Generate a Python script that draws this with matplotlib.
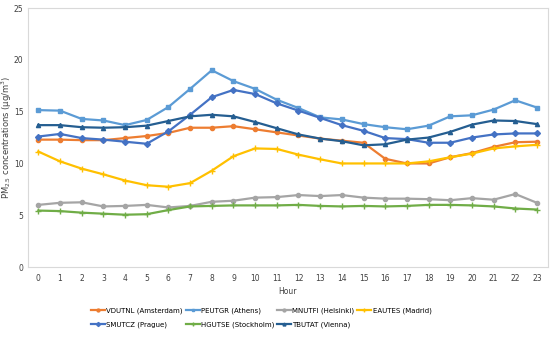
import numpy as np
import matplotlib
matplotlib.use("Agg")
import matplotlib.pyplot as plt

plt.rcParams['font.family'] = ['Liberation Sans Narrow', 'DejaVu Sans']

hours = list(range(24))

amsterdam = [12.3, 12.3, 12.25, 12.25, 12.45, 12.65, 12.95, 13.45, 13.45, 13.6, 13.3, 13.0,
             12.7, 12.4, 12.2, 12.0, 10.45, 10.0, 10.0, 10.6, 11.0, 11.6, 12.05, 12.1]
athens = [15.15, 15.1, 14.3, 14.15, 13.7, 14.2, 15.45, 17.2, 19.0, 17.95, 17.2, 16.15,
          15.35, 14.45, 14.25, 13.8, 13.5, 13.3, 13.65, 14.55, 14.65, 15.2, 16.1, 15.4]
helsinki = [6.0, 6.2, 6.25, 5.85, 5.9, 6.0, 5.75, 5.9, 6.3, 6.4, 6.7, 6.75,
            6.95, 6.85, 6.95, 6.7, 6.6, 6.6, 6.55, 6.45, 6.65, 6.5, 7.05, 6.2]
madrid = [11.15, 10.2, 9.5, 8.95, 8.35, 7.9, 7.75, 8.1, 9.3, 10.7, 11.45, 11.4,
          10.85, 10.4, 10.0, 10.0, 10.0, 10.0, 10.2, 10.6, 10.95, 11.45, 11.65, 11.8]
prague = [12.6, 12.85, 12.45, 12.3, 12.1, 11.9, 13.1, 14.7, 16.4, 17.1, 16.7, 15.8,
          15.1, 14.4, 13.7, 13.15, 12.45, 12.35, 12.0, 12.0, 12.5, 12.8, 12.9, 12.9]
stockholm = [5.45, 5.4, 5.25, 5.15, 5.05, 5.1, 5.5, 5.85, 5.9, 5.95, 5.95, 5.95,
             6.0, 5.9, 5.85, 5.9, 5.85, 5.9, 6.0, 6.0, 5.95, 5.85, 5.65, 5.55]
vienna = [13.7, 13.7, 13.5, 13.45, 13.5, 13.65, 14.1, 14.55, 14.7, 14.55, 14.0, 13.4,
          12.8, 12.4, 12.15, 11.75, 11.85, 12.3, 12.5, 13.05, 13.75, 14.15, 14.1, 13.8]

series = [
    ("VDUTNL (Amsterdam)", amsterdam, "#ED7D31", "o"),
    ("PEUTGR (Athens)", athens, "#5B9BD5", "s"),
    ("MNUTFI (Helsinki)", helsinki, "#A5A5A5", "o"),
    ("EAUTES (Madrid)", madrid, "#FFC000", "+"),
    ("SMUTCZ (Prague)", prague, "#4472C4", "D"),
    ("HGUTSE (Stockholm)", stockholm, "#70AD47", "+"),
    ("TBUTAT (Vienna)", vienna, "#255E91", "^"),
]

fig = plt.figure(figsize=(5.5, 3.38), dpi=100)
ax = fig.add_axes([0.05, 0.21, 0.946, 0.766])

handles = []
for name, vals, col, mk in series:
    h, = ax.plot(hours, vals, color=col, lw=1.6, marker=mk, ms=3 if mk != "+" else 4,
                 mew=1.0, label=name)
    handles.append(h)

ax.set_xlim(-0.5, 23.5)
ax.set_ylim(0, 25)
ax.set_xticks(hours)
ax.set_yticks([0, 5, 10, 15, 20, 25])
ax.tick_params(labelsize=5.5, length=0, colors="#404040")
ax.tick_params(axis="x", pad=5)
ax.tick_params(axis="y", pad=3)
for s in ax.spines.values():
    s.set_color("#D9D9D9")
    s.set_linewidth(0.8)

ax.set_xlabel("Hour", fontsize=5.5, color="#404040", labelpad=3)
ax.set_ylabel("PM$_{2.5}$ concentrations (μg/m$^3$)", fontsize=6, color="#404040",
              va="center")
ax.yaxis.set_label_coords(-0.039, 0.5)

order = [0, 4, 1, 5, 2, 6, 3]
fig.legend([handles[i] for i in order], [series[i][0] for i in order],
           loc="center", bbox_to_anchor=(0.475, 0.06), ncol=4, fontsize=5,
           frameon=False, handlelength=2.0, columnspacing=0.4, handletextpad=0.2,
           labelspacing=1.1, markerscale=0.7)

fig.savefig("out.png", dpi=100)
